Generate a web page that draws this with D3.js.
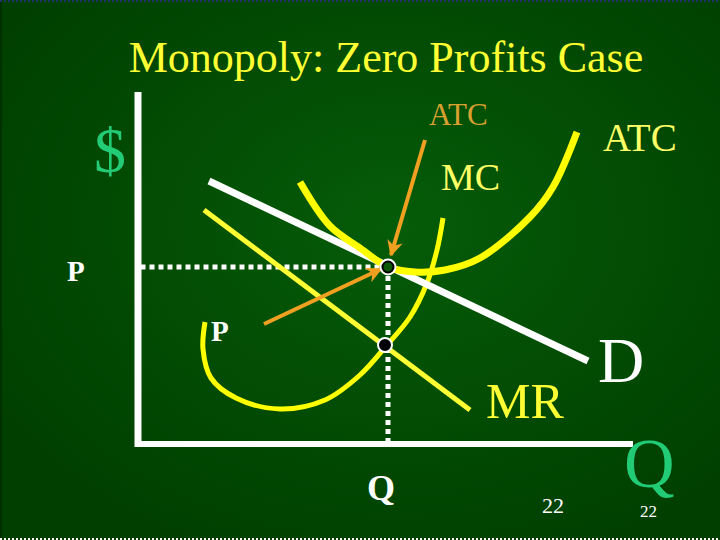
<!DOCTYPE html>
<html>
<head>
<meta charset="utf-8">
<script src="https://cdn.jsdelivr.net/npm/d3@7"></script>
<style>
  body { margin: 0; background: #ffffff; }
  text { font-family: "Liberation Serif", "Times New Roman", serif; }
</style>
</head>
<body>
<div id="chart"></div>
<script>
// curve points in chart units: [quantity, price]
var demand = [[1.42, 5.26], [9.0, 1.66]];
var marginalRevenue = [[1.32, 4.68], [6.64, 0.68]];
var mcCurve = [[1.34, 2.44], [1.30, 1.90], [1.46, 1.32], [1.96, 0.92], [2.84, 0.70],
               [3.74, 0.88], [4.44, 1.38], [4.98, 1.98], [5.44, 2.54], [5.78, 3.22],
               [5.98, 3.88], [6.10, 4.52]];
var atcCurve = [[3.24, 5.24], [3.84, 4.36], [4.44, 3.92], [5.00, 3.54], [5.54, 3.44],
                [6.14, 3.48], [6.84, 3.72], [7.84, 4.54], [8.30, 5.14], [8.78, 6.24]];
var tangency = [5.0, 3.54];      // P = ATC, profit-maximising Q
var mrEqualsMc = [4.94, 1.98];
var arrowToAtc = [[5.74, 6.08], [5.06, 3.78]];
var arrowToP = [[2.52, 2.40], [4.86, 3.50]];

var width = 720, height = 540;

var svg = d3.select("#chart").append("svg")
    .attr("width", width)
    .attr("height", height);

// background
var defs = svg.append("defs");
var grad = defs.append("radialGradient")
    .attr("id", "bg")
    .attr("cx", "55%").attr("cy", "42%").attr("r", "65%");
grad.append("stop").attr("offset", "0%").attr("stop-color", "#055c08");
grad.append("stop").attr("offset", "100%").attr("stop-color", "#003f00");

svg.append("rect")
    .attr("width", width).attr("height", height)
    .attr("fill", "url(#bg)");

// dotted frame at top and bottom
svg.append("line").attr("x1", 0).attr("x2", width).attr("y1", 1).attr("y2", 1)
    .attr("stroke", "#223366").attr("stroke-width", 2).attr("stroke-dasharray", "2,2");
svg.append("line").attr("x1", 0).attr("x2", width).attr("y1", 539).attr("y2", 539)
    .attr("stroke", "#ffffff").attr("stroke-width", 2).attr("stroke-dasharray", "2,2");
svg.append("rect").attr("x", 0).attr("y", 2).attr("width", 2).attr("height", 536).attr("fill", "#003000");

// scales
var x = d3.scaleLinear().domain([0, 10]).range([138, 638]);
var y = d3.scaleLinear().domain([0, 7]).range([444, 94]);

var straight = d3.line()
    .x(function(d) { return x(d[0]); })
    .y(function(d) { return y(d[1]); });
var smooth = d3.line()
    .x(function(d) { return x(d[0]); })
    .y(function(d) { return y(d[1]); })
    .curve(d3.curveCatmullRom.alpha(0.5));

// axes
svg.append("line")
    .attr("x1", x(0)).attr("x2", x(0))
    .attr("y1", y(7.04)).attr("y2", y(-0.06))
    .attr("stroke", "#ffffff").attr("stroke-width", 7);
svg.append("line")
    .attr("x1", x(-0.06)).attr("x2", x(9.9))
    .attr("y1", y(0)).attr("y2", y(0))
    .attr("stroke", "#ffffff").attr("stroke-width", 6);

// dotted guides
svg.append("line")
    .attr("x1", x(0.05)).attr("x2", x(tangency[0]))
    .attr("y1", y(tangency[1])).attr("y2", y(tangency[1]))
    .attr("stroke", "#ffffff").attr("stroke-width", 5).attr("stroke-dasharray", "5,4");
svg.append("line")
    .attr("x1", x(tangency[0])).attr("x2", x(tangency[0]))
    .attr("y1", y(tangency[1])).attr("y2", y(0.05))
    .attr("stroke", "#ffffff").attr("stroke-width", 5).attr("stroke-dasharray", "5,4");

// MR
svg.append("path").datum(marginalRevenue)
    .attr("d", straight).attr("fill", "none")
    .attr("stroke", "#ffff33").attr("stroke-width", 5);

// MC
svg.append("path").datum(mcCurve)
    .attr("d", smooth).attr("fill", "none")
    .attr("stroke", "#ffff00").attr("stroke-width", 5);

// demand
svg.append("path").datum(demand)
    .attr("d", straight).attr("fill", "none")
    .attr("stroke", "#ffffff").attr("stroke-width", 7);

// ATC
svg.append("path").datum(atcCurve)
    .attr("d", smooth).attr("fill", "none")
    .attr("stroke", "#ffff00").attr("stroke-width", 7);

// orange arrows
defs.append("marker")
    .attr("id", "head")
    .attr("viewBox", "0 0 10 10")
    .attr("refX", 9).attr("refY", 5)
    .attr("markerWidth", 4.5).attr("markerHeight", 4)
    .attr("orient", "auto")
    .append("path").attr("d", "M0,0L10,5L0,10L3,5Z").attr("fill", "#f0a020");

[arrowToAtc, arrowToP].forEach(function(a) {
    svg.append("path").datum(a)
        .attr("d", straight)
        .attr("stroke", "#f0a020").attr("stroke-width", 4)
        .attr("marker-end", "url(#head)");
});

// points
svg.append("circle")
    .attr("cx", x(tangency[0])).attr("cy", y(tangency[1])).attr("r", 7)
    .attr("fill", "none").attr("stroke", "#ffffff").attr("stroke-width", 3);
svg.append("circle")
    .attr("cx", x(tangency[0])).attr("cy", y(tangency[1])).attr("r", 5.5)
    .attr("fill", "#0a5a0a").attr("stroke", "#000000").attr("stroke-width", 2);
svg.append("circle")
    .attr("cx", x(mrEqualsMc[0])).attr("cy", y(mrEqualsMc[1])).attr("r", 7)
    .attr("fill", "#000000").attr("stroke", "#ffffff").attr("stroke-width", 2);

// text labels
function label(txt, px, py, size, color, weight, anchor) {
    svg.append("text")
        .attr("x", px).attr("y", py)
        .attr("font-size", size)
        .attr("font-weight", weight || "normal")
        .attr("text-anchor", anchor || "start")
        .attr("fill", color)
        .text(txt);
}

label("Monopoly: Zero Profits Case", 386, 72, 44, "#ffff33", "normal", "middle");
label("$", 94, 172, 64, "#22cc77");
label("ATC", 429, 125, 31, "#d9a030");
label("ATC", 603, 151, 39, "#ffff66");
label("MC", 441, 190, 38, "#ffff66");
label("P", 67, 281, 29, "#ffffff", "bold");
label("P", 211, 341, 29, "#ffffff", "bold");
label("MR", 486, 418, 50, "#ffff33");
label("D", 598, 382, 64, "#ffffff");
label("Q", 624, 487, 70, "#22cc77");
label("Q", 367, 500, 36, "#ffffff", "bold");
label("22", 542, 513, 22, "#ffffff");
label("22", 640, 517, 17, "#ffffff");
</script>
</body>
</html>
